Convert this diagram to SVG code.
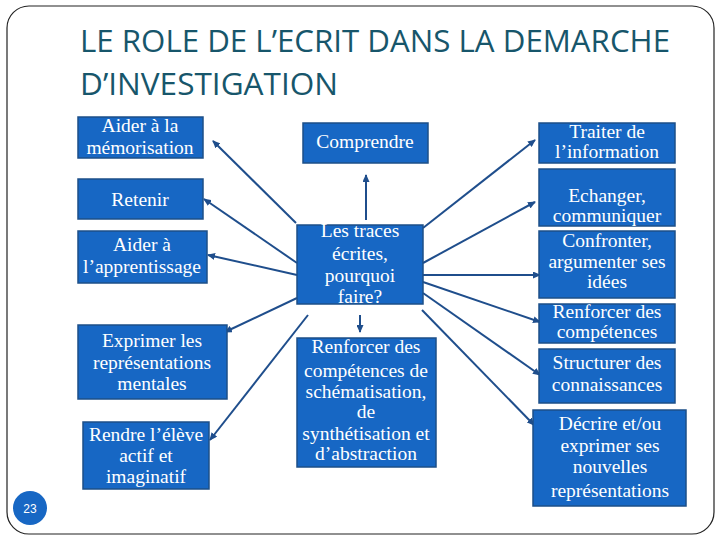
<svg xmlns="http://www.w3.org/2000/svg" width="720" height="540" viewBox="0 0 720 540">
<defs>
<marker id="arr" markerUnits="userSpaceOnUse" markerWidth="8" markerHeight="7" refX="7" refY="3.5" orient="auto">
<path d="M0,0 L8,3.5 L0,7 z" fill="#1f4e8c"/>
</marker>
<style>
.box{fill:#1767c4;stroke:#1d4f88;stroke-width:1.5}
.t{font-family:"Liberation Serif","Times New Roman",serif;font-size:19.5px;fill:#ffffff;text-anchor:middle}
.title{font-family:"Open Sans","Noto Sans","Liberation Sans",sans-serif;font-size:31px;fill:#17566b}
.c{stroke:#1f4e8c;stroke-width:2;fill:none;marker-end:url(#arr)}
</style>
</defs>
<rect x="0" y="0" width="720" height="540" fill="#ffffff"/>
<rect x="7" y="6" width="707" height="528" rx="22" ry="22" fill="#ffffff" stroke="#222222" stroke-width="1.2"/>
<g id="title">
<text class="title" x="80" y="52" textLength="590" lengthAdjust="spacingAndGlyphs">LE ROLE DE L’ECRIT DANS LA DEMARCHE</text>
<text class="title" x="80" y="95" textLength="258" lengthAdjust="spacingAndGlyphs">D’INVESTIGATION</text>
</g>
<g id="connectors">
<line class="c" x1="296" y1="223" x2="213" y2="141"/>
<line class="c" x1="297" y1="263" x2="204" y2="199"/>
<line class="c" x1="297" y1="275" x2="208" y2="255"/>
<line class="c" x1="297" y1="298" x2="225" y2="332"/>
<line class="c" x1="308" y1="315" x2="210" y2="440"/>
<line class="c" x1="423" y1="228" x2="535" y2="140"/>
<line class="c" x1="423" y1="263" x2="535" y2="202"/>
<line class="c" x1="423" y1="275" x2="540" y2="275"/>
<line class="c" x1="423" y1="282" x2="540" y2="322"/>
<line class="c" x1="423" y1="293" x2="540" y2="375"/>
<line class="c" x1="422" y1="310" x2="534" y2="425"/>
<line class="c" x1="366" y1="220" x2="366" y2="175"/>
<line class="c" x1="360" y1="315" x2="360" y2="332"/>
</g>
<g id="n-memorisation">
<rect class="box" x="78" y="117" width="125" height="41"/>
<text class="t" x="140" y="132">Aider à la</text>
<text class="t" x="140" y="154">mémorisation</text>
</g>
<g id="n-retenir">
<rect class="box" x="78" y="179" width="125" height="40"/>
<text class="t" x="140" y="206">Retenir</text>
</g>
<g id="n-apprentissage">
<rect class="box" x="78" y="231" width="129" height="52"/>
<text class="t" x="142" y="251">Aider à</text>
<text class="t" x="142" y="273">l’apprentissage</text>
</g>
<g id="n-exprimer">
<rect class="box" x="78" y="325" width="149" height="74"/>
<text class="t" x="152" y="347">Exprimer les</text>
<text class="t" x="152" y="369">représentations</text>
<text class="t" x="152" y="390">mentales</text>
</g>
<g id="n-rendre">
<rect class="box" x="83" y="422" width="126" height="67"/>
<text class="t" x="146" y="441">Rendre l’élève</text>
<text class="t" x="146" y="462">actif et</text>
<text class="t" x="146" y="483">imaginatif</text>
</g>
<g id="n-comprendre">
<rect class="box" x="303" y="123" width="125" height="40"/>
<text class="t" x="365" y="148">Comprendre</text>
</g>
<g id="n-traces">
<rect class="box" x="297" y="225" width="126" height="79"/>
<text class="t" x="360" y="237">Les traces</text>
<text class="t" x="360" y="260">écrites,</text>
<text class="t" x="360" y="282">pourquoi</text>
<text class="t" x="360" y="303">faire?</text>
</g>
<g id="n-schematisation">
<rect class="box" x="297" y="338" width="139" height="129"/>
<text class="t" x="366" y="353">Renforcer des</text>
<text class="t" x="366" y="377">compétences de</text>
<text class="t" x="366" y="398">schématisation,</text>
<text class="t" x="366" y="418">de</text>
<text class="t" x="366" y="440">synthétisation et</text>
<text class="t" x="366" y="460">d’abstraction</text>
</g>
<g id="n-traiter">
<rect class="box" x="539" y="123" width="136" height="40"/>
<text class="t" x="607" y="138">Traiter de</text>
<text class="t" x="607" y="158">l’information</text>
</g>
<g id="n-echanger">
<rect class="box" x="539" y="169" width="136" height="57"/>
<text class="t" x="607" y="202">Echanger,</text>
<text class="t" x="607" y="222">communiquer</text>
</g>
<g id="n-confronter">
<rect class="box" x="539" y="231" width="136" height="67"/>
<text class="t" x="607" y="247">Confronter,</text>
<text class="t" x="607" y="268">argumenter ses</text>
<text class="t" x="607" y="288">idées</text>
</g>
<g id="n-renforcer">
<rect class="box" x="539" y="304" width="136" height="39"/>
<text class="t" x="607" y="318">Renforcer des</text>
<text class="t" x="607" y="338">compétences</text>
</g>
<g id="n-structurer">
<rect class="box" x="539" y="349" width="136" height="54"/>
<text class="t" x="607" y="369">Structurer des</text>
<text class="t" x="607" y="391">connaissances</text>
</g>
<g id="n-decrire">
<rect class="box" x="533" y="410" width="153" height="96"/>
<text class="t" x="610" y="430">Décrire et/ou</text>
<text class="t" x="610" y="452">exprimer ses</text>
<text class="t" x="610" y="473">nouvelles</text>
<text class="t" x="610" y="497">représentations</text>
</g>
<g id="page-number">
<circle cx="30" cy="508" r="17" fill="#1767c4"/>
<text x="30" y="512.5" font-family="'Liberation Sans',Arial,sans-serif" font-size="12" fill="#ffffff" text-anchor="middle">23</text>
</g>
</svg>
